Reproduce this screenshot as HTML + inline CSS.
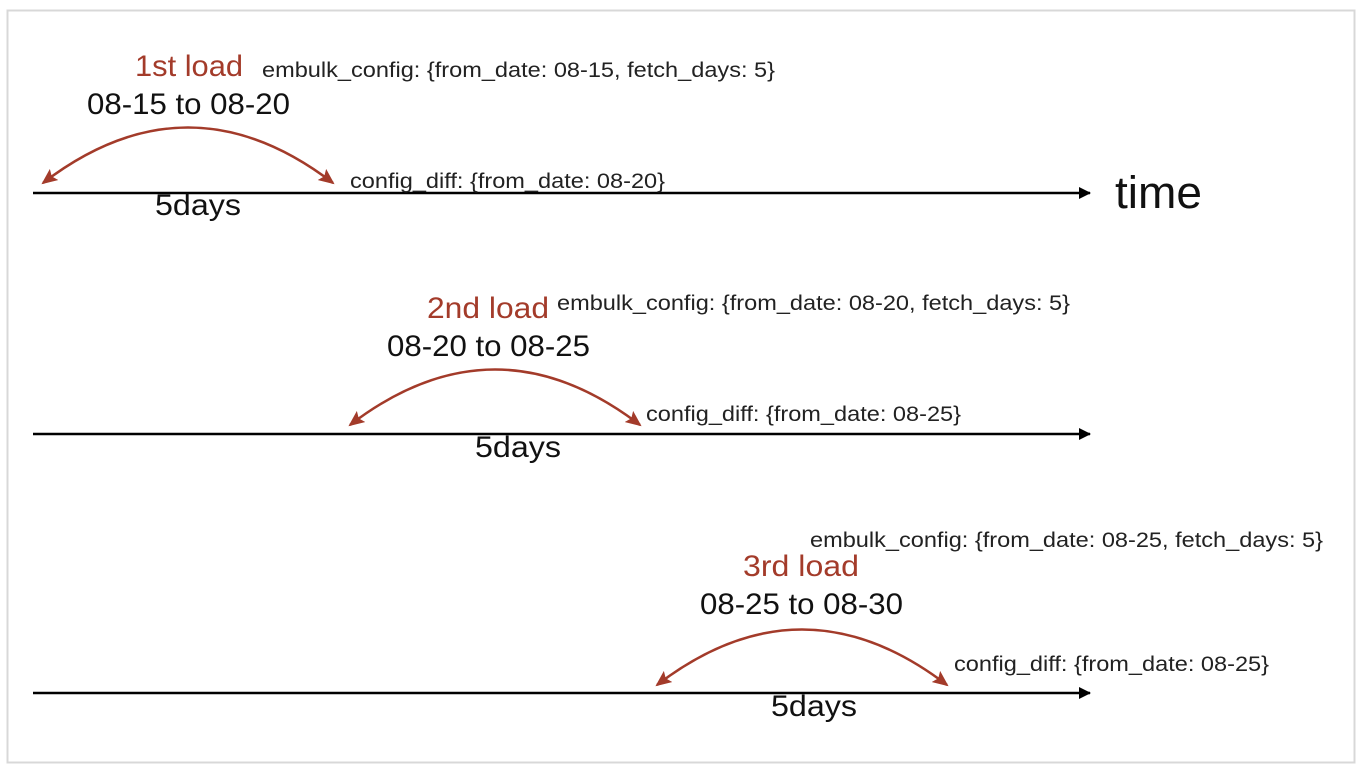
<!DOCTYPE html>
<html><head><style>body{margin:0;background:#fff}svg{display:block}</style></head>
<body>
<svg width="1372" height="774" viewBox="0 0 1372 774" xmlns="http://www.w3.org/2000/svg" font-family="Liberation Sans, Arial, sans-serif">
<defs>
<marker id="ab" markerWidth="12" markerHeight="12" refX="11" refY="6" orient="auto" markerUnits="userSpaceOnUse"><path d="M0,0 L12,6 L0,12 z" fill="#000"/></marker>
<marker id="ar" markerWidth="16" markerHeight="14" refX="14" refY="7" orient="auto-start-reverse" markerUnits="userSpaceOnUse"><path d="M0,0 L16,7 L0,14 L3,7 z" fill="#a33b2a"/></marker>
</defs>
<rect x="7.5" y="10.5" width="1347" height="752" fill="#fff" stroke="#d8d8d8" stroke-width="2"/>
<g stroke="#000" stroke-width="2.5">
<line x1="33" y1="193" x2="1090" y2="193" marker-end="url(#ab)"/>
<line x1="33" y1="434" x2="1090" y2="434" marker-end="url(#ab)"/>
<line x1="33" y1="693" x2="1090" y2="693" marker-end="url(#ab)"/>
</g>
<g fill="none" stroke="#a33b2a" stroke-width="2.5">
<path d="M43,183 Q188,72 333,183" marker-start="url(#ar)" marker-end="url(#ar)"/>
<path d="M350,425 Q495,314 640,425" marker-start="url(#ar)" marker-end="url(#ar)"/>
<path d="M657,685 Q802,574 947,685" marker-start="url(#ar)" marker-end="url(#ar)"/>
</g>
<g fill="#a33b2a" font-size="30" lengthAdjust="spacingAndGlyphs">
<text x="135" y="76" textLength="108" lengthAdjust="spacingAndGlyphs">1st load</text>
<text x="427" y="318" textLength="122" lengthAdjust="spacingAndGlyphs">2nd load</text>
<text x="743" y="576" textLength="116" lengthAdjust="spacingAndGlyphs">3rd load</text>
</g>
<g fill="#111" font-size="30">
<text x="87" y="114" textLength="203" lengthAdjust="spacingAndGlyphs">08-15 to 08-20</text>
<text x="387" y="356" textLength="203" lengthAdjust="spacingAndGlyphs">08-20 to 08-25</text>
<text x="700" y="614" textLength="203" lengthAdjust="spacingAndGlyphs">08-25 to 08-30</text>
<text x="155" y="215" textLength="86" lengthAdjust="spacingAndGlyphs">5days</text>
<text x="475" y="457" textLength="86" lengthAdjust="spacingAndGlyphs">5days</text>
<text x="771" y="716" textLength="86" lengthAdjust="spacingAndGlyphs">5days</text>
<text x="1115" y="208" font-size="45" textLength="87" lengthAdjust="spacingAndGlyphs">time</text>
</g>
<g fill="#222" font-size="21">
<text x="262" y="77" textLength="513" lengthAdjust="spacingAndGlyphs">embulk_config: {from_date: 08-15, fetch_days: 5}</text>
<text x="557" y="310" textLength="513" lengthAdjust="spacingAndGlyphs">embulk_config: {from_date: 08-20, fetch_days: 5}</text>
<text x="810" y="547" textLength="513" lengthAdjust="spacingAndGlyphs">embulk_config: {from_date: 08-25, fetch_days: 5}</text>
<text x="350" y="188" textLength="315" lengthAdjust="spacingAndGlyphs">config_diff: {from_date: 08-20}</text>
<text x="646" y="421" textLength="315" lengthAdjust="spacingAndGlyphs">config_diff: {from_date: 08-25}</text>
<text x="954" y="671" textLength="315" lengthAdjust="spacingAndGlyphs">config_diff: {from_date: 08-25}</text>
</g>
</svg>
</body></html>
